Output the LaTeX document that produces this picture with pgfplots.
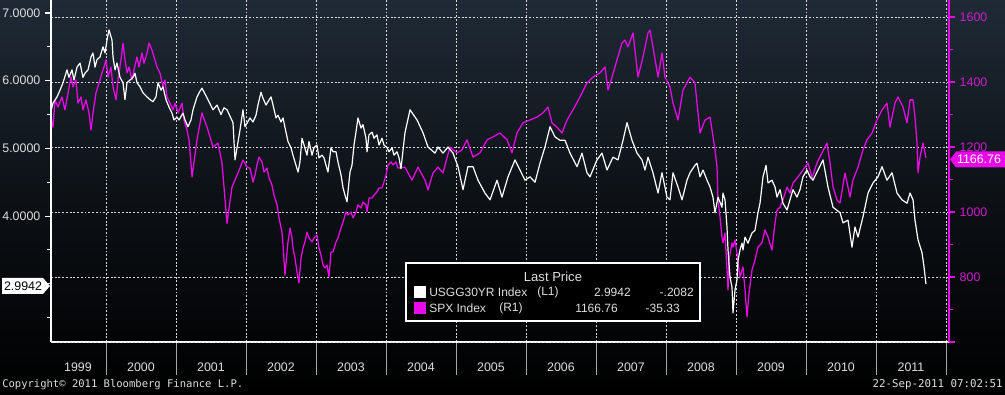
\documentclass[border=0pt]{standalone}
\usepackage{pgfplots}
\pgfplotsset{compat=1.18}
\usepackage{fontspec}
\setmainfont{Liberation Sans}
\newfontfamily\bbmono{DejaVu Sans Mono}
\definecolor{bbmag}{RGB}{232,10,232}
\definecolor{bbmagtxt}{RGB}{205,30,205}
\definecolor{bbgray}{RGB}{222,222,222}
\definecolor{bgtop}{RGB}{31,42,54}
\newcommand{\axfont}{\fontsize{9.3}{10}\selectfont}
\newcommand{\lgfont}{\fontsize{9}{10}\selectfont}

\pgfplotstableread{
x y
1999.214 5.55
1999.243 5.67
1999.300 5.76
1999.343 5.86
1999.386 5.97
1999.443 6.16
1999.471 6.05
1999.514 6.16
1999.543 6.01
1999.586 6.20
1999.629 6.26
1999.671 6.05
1999.700 6.11
1999.743 6.16
1999.786 6.35
1999.814 6.41
1999.843 6.20
1999.871 6.31
1999.914 6.35
1999.957 6.50
1999.986 6.41
2000.014 6.60
2000.043 6.75
2000.086 6.60
2000.100 6.35
2000.129 6.16
2000.157 6.26
2000.200 6.05
2000.243 5.97
2000.271 5.72
2000.300 5.97
2000.343 6.01
2000.386 6.05
2000.414 6.11
2000.443 5.97
2000.486 5.91
2000.529 5.82
2000.586 5.76
2000.629 5.72
2000.671 5.69
2000.714 5.76
2000.743 5.97
2000.786 5.86
2000.814 5.91
2000.857 5.72
2000.900 5.61
2000.943 5.52
2000.971 5.42
2001.014 5.46
2001.043 5.42
2001.100 5.52
2001.129 5.42
2001.171 5.32
2001.214 5.42
2001.243 5.57
2001.300 5.76
2001.329 5.82
2001.371 5.89
2001.457 5.72
2001.529 5.57
2001.586 5.64
2001.643 5.50
2001.686 5.60
2001.729 5.57
2001.814 5.38
2001.843 4.83
2001.914 5.27
2001.957 5.57
2001.986 5.32
2002.057 5.45
2002.100 5.39
2002.143 5.49
2002.171 5.64
2002.214 5.83
2002.243 5.74
2002.286 5.64
2002.314 5.69
2002.357 5.76
2002.386 5.64
2002.429 5.45
2002.457 5.49
2002.500 5.39
2002.529 5.45
2002.571 5.24
2002.600 5.10
2002.643 5.01
2002.671 4.90
2002.714 4.75
2002.743 4.65
2002.771 4.80
2002.800 5.15
2002.829 5.05
2002.871 4.90
2002.900 5.10
2002.943 4.90
2002.971 5.01
2003.014 5.05
2003.043 4.86
2003.086 4.90
2003.114 4.86
2003.143 4.75
2003.171 4.65
2003.214 5.01
2003.243 4.95
2003.286 4.95
2003.314 4.80
2003.357 4.61
2003.386 4.42
2003.414 4.31
2003.443 4.21
2003.457 4.36
2003.486 4.65
2003.514 4.75
2003.543 5.05
2003.571 5.24
2003.600 5.45
2003.643 5.30
2003.671 5.35
2003.714 5.15
2003.729 4.95
2003.757 5.20
2003.800 5.24
2003.829 5.15
2003.871 5.20
2003.900 5.05
2003.943 5.15
2003.971 5.05
2004.014 5.01
2004.043 4.95
2004.086 5.01
2004.114 4.90
2004.157 4.95
2004.186 4.86
2004.214 4.70
2004.271 5.23
2004.343 5.57
2004.443 5.42
2004.529 5.23
2004.600 5.02
2004.700 4.93
2004.743 5.02
2004.814 4.93
2004.886 5.02
2004.957 4.93
2005.029 4.73
2005.100 4.39
2005.171 4.73
2005.243 4.73
2005.314 4.53
2005.414 4.34
2005.486 4.24
2005.586 4.53
2005.657 4.28
2005.743 4.58
2005.843 4.83
2005.914 4.68
2005.986 4.53
2006.057 4.58
2006.129 4.50
2006.200 4.78
2006.271 5.02
2006.343 5.32
2006.414 5.17
2006.486 5.12
2006.557 5.12
2006.629 4.93
2006.729 4.73
2006.800 4.93
2006.871 4.64
2006.914 4.58
2007.014 4.83
2007.086 4.93
2007.157 4.68
2007.243 4.87
2007.314 4.83
2007.386 5.12
2007.443 5.38
2007.514 5.12
2007.586 4.93
2007.657 4.83
2007.700 4.68
2007.743 4.87
2007.814 4.64
2007.886 4.34
2007.943 4.64
2008.014 4.28
2008.057 4.24
2008.100 4.64
2008.171 4.43
2008.229 4.24
2008.300 4.53
2008.343 4.64
2008.414 4.75
2008.443 4.78
2008.486 4.58
2008.529 4.68
2008.586 4.53
2008.629 4.43
2008.671 4.28
2008.700 4.05
2008.743 4.28
2008.800 4.13
2008.814 4.34
2008.843 4.24
2008.871 3.84
2008.886 3.50
2008.914 3.10
2008.943 2.95
2008.957 2.57
2008.986 2.91
2009.014 3.06
2009.029 3.35
2009.057 3.50
2009.086 3.60
2009.100 3.50
2009.129 3.69
2009.171 3.60
2009.229 3.75
2009.271 3.79
2009.314 4.05
2009.343 4.19
2009.386 4.58
2009.429 4.75
2009.457 4.49
2009.514 4.53
2009.557 4.43
2009.586 4.28
2009.629 4.39
2009.671 4.19
2009.729 4.09
2009.771 4.24
2009.814 4.39
2009.871 4.28
2009.914 4.39
2009.957 4.58
2010.014 4.68
2010.057 4.58
2010.100 4.53
2010.171 4.68
2010.243 4.83
2010.314 4.43
2010.386 4.13
2010.486 4.05
2010.529 3.90
2010.600 3.94
2010.657 3.54
2010.700 3.84
2010.743 3.69
2010.814 3.99
2010.886 4.34
2010.957 4.49
2011.029 4.58
2011.086 4.73
2011.157 4.53
2011.229 4.64
2011.300 4.34
2011.371 4.24
2011.443 4.19
2011.486 4.34
2011.529 4.24
2011.557 3.94
2011.600 3.65
2011.657 3.46
2011.686 3.25
2011.714 2.9942
}\usgg

\pgfplotstableread{
x y
1999.214 1290
1999.243 1261
1999.271 1345
1999.314 1323
1999.371 1354
1999.414 1314
1999.457 1366
1999.500 1415
1999.529 1385
1999.571 1406
1999.600 1335
1999.643 1354
1999.671 1314
1999.714 1345
1999.757 1305
1999.786 1252
1999.814 1305
1999.857 1366
1999.900 1397
1999.943 1428
1999.971 1446
2000.000 1468
2000.029 1415
2000.071 1446
2000.100 1385
2000.143 1345
2000.171 1406
2000.214 1468
2000.243 1520
2000.271 1468
2000.300 1428
2000.329 1446
2000.371 1406
2000.400 1437
2000.443 1477
2000.471 1446
2000.514 1489
2000.543 1458
2000.586 1489
2000.614 1520
2000.657 1498
2000.686 1477
2000.729 1446
2000.771 1428
2000.814 1385
2000.843 1406
2000.871 1354
2000.914 1335
2000.957 1314
2000.986 1335
2001.029 1305
2001.086 1335
2001.114 1283
2001.157 1252
2001.186 1222
2001.229 1108
2001.300 1222
2001.371 1305
2001.443 1261
2001.529 1200
2001.600 1212
2001.657 1151
2001.729 965
2001.800 1077
2001.886 1120
2001.957 1160
2002.014 1138
2002.057 1135
2002.100 1092
2002.129 1114
2002.157 1145
2002.186 1169
2002.229 1154
2002.257 1123
2002.300 1135
2002.329 1105
2002.371 1083
2002.400 1052
2002.443 1022
2002.471 982
2002.514 938
2002.529 898
2002.557 806
2002.586 877
2002.600 908
2002.629 951
2002.657 920
2002.671 889
2002.700 858
2002.729 815
2002.757 782
2002.786 858
2002.814 889
2002.843 908
2002.871 938
2002.900 920
2002.943 908
2002.971 920
2003.014 929
2003.043 889
2003.071 868
2003.100 837
2003.129 828
2003.157 837
2003.186 800
2003.214 877
2003.243 877
2003.286 908
2003.314 920
2003.357 951
2003.386 969
2003.429 1000
2003.457 991
2003.500 1000
2003.529 982
2003.571 1000
2003.600 1022
2003.643 1012
2003.671 1031
2003.714 1022
2003.729 1000
2003.757 1043
2003.800 1043
2003.829 1052
2003.871 1062
2003.900 1074
2003.943 1074
2003.971 1092
2004.000 1114
2004.029 1145
2004.071 1154
2004.100 1145
2004.143 1154
2004.171 1135
2004.271 1138
2004.371 1098
2004.457 1138
2004.557 1098
2004.600 1068
2004.671 1120
2004.743 1138
2004.814 1120
2004.914 1200
2005.014 1182
2005.086 1191
2005.157 1222
2005.243 1169
2005.343 1182
2005.443 1222
2005.529 1231
2005.629 1243
2005.729 1222
2005.800 1182
2005.871 1243
2005.957 1274
2006.057 1283
2006.157 1292
2006.243 1305
2006.314 1323
2006.371 1274
2006.443 1261
2006.514 1243
2006.586 1283
2006.671 1314
2006.771 1354
2006.871 1397
2006.957 1415
2007.057 1428
2007.129 1446
2007.171 1375
2007.229 1415
2007.300 1468
2007.371 1520
2007.414 1529
2007.457 1508
2007.529 1551
2007.600 1415
2007.671 1477
2007.743 1551
2007.771 1560
2007.814 1508
2007.886 1415
2007.943 1489
2007.986 1415
2008.057 1385
2008.100 1335
2008.171 1283
2008.243 1375
2008.343 1415
2008.414 1397
2008.486 1243
2008.557 1283
2008.629 1292
2008.700 1191
2008.729 1138
2008.743 1037
2008.771 985
2008.800 923
2008.814 905
2008.843 935
2008.871 822
2008.886 760
2008.900 852
2008.943 905
2008.957 892
2008.986 914
2009.014 874
2009.029 843
2009.057 800
2009.100 831
2009.129 760
2009.157 677
2009.186 751
2009.229 822
2009.271 852
2009.314 892
2009.371 905
2009.414 945
2009.457 923
2009.514 883
2009.557 966
2009.586 1006
2009.629 1015
2009.671 1037
2009.729 1077
2009.771 1058
2009.814 1089
2009.886 1108
2009.957 1129
2010.029 1151
2010.086 1105
2010.157 1151
2010.229 1182
2010.300 1212
2010.343 1151
2010.386 1077
2010.443 1037
2010.486 1028
2010.557 1120
2010.629 1046
2010.671 1098
2010.743 1138
2010.814 1191
2010.871 1222
2010.943 1243
2011.014 1283
2011.086 1314
2011.157 1335
2011.200 1261
2011.271 1335
2011.314 1354
2011.386 1323
2011.443 1274
2011.486 1345
2011.529 1345
2011.557 1292
2011.586 1212
2011.600 1120
2011.629 1169
2011.671 1212
2011.714 1166.76
}\spx

\pgfplotsset{
  bbbase/.style={
    width=673.5pt, height=256.5pt, scale only axis,
    at={(38.25pt,39.75pt)}, anchor=south west,
    xmin=1999.2143, xmax=2012.043,
  },
}

\begin{document}
\begin{tikzpicture}[x=0.75pt,y=0.75pt]
\shade[top color=bgtop, bottom color=black, middle color=bgtop!40!black] (0,0) rectangle (1005,395);

% x axis: year separators, vertical grid, labels
\begin{axis}[bbbase, ymin=0, ymax=1,
  hide y axis,
  axis x line*=bottom,
  x axis line style={white, line width=0.8pt, -},
  xtick={2000,2001,2002,2003,2004,2005,2006,2007,2008,2009,2010,2011,2012},
  xticklabels={},
  tick align=outside,
  major tick length=24.5pt,
  xtick style={draw=gray!70, line width=0.7pt},
  xmajorgrids,
  x grid style={white!85!black, dash pattern=on 1.4pt off 1.4pt, line width=0.5pt},
  extra x ticks={1999.6,2000.5,2001.5,2002.5,2003.5,2004.5,2005.5,2006.5,2007.5,2008.5,2009.5,2010.5,2011.5},
  extra x tick labels={1999,2000,2001,2002,2003,2004,2005,2006,2007,2008,2009,2010,2011},
  extra x tick style={major tick length=0pt, grid=none, xtick style={draw=none},
    xticklabel style={anchor=center, yshift=-19pt}},
  xticklabel style={text=bbgray, font=\axfont},
]
\end{axis}

% right axis: SPX
\begin{axis}[bbbase, ymin=600, ymax=1652.3,
  hide x axis,
  axis y line*=right,
  y axis line style={bbmag, line width=0.9pt, -},
  ytick={600,800,1000,1200,1400,1600},
  yticklabels={,800,1000,1200,1400,1600},
  minor ytick={700,900,1100,1300,1500},
  tick align=outside,
  major tick length=4.5pt, minor tick length=3pt,
  ytick style={draw=bbmag, line width=0.9pt},
  yticklabel style={text=bbmagtxt, font=\axfont},
  ymajorgrids,
  y grid style={white!85!black, dash pattern=on 1.4pt off 1.4pt, line width=0.5pt},
]
\addplot[bbmag, line width=0.95pt, line join=round] table[x=x, y=y] {\spx};
\end{axis}

% left axis: USGG30YR
\begin{axis}[bbbase, ymin=2.140, ymax=7.192,
  hide x axis,
  axis y line*=left,
  y axis line style={white, line width=0.8pt, -},
  ytick={4,5,6,7},
  minor ytick={2.5,3,3.5,4.5,5.5,6.5},
  tick align=outside,
  major tick length=4.5pt, minor tick length=3pt,
  ytick style={draw=white, line width=0.8pt},
  yticklabel style={text=bbgray, font=\axfont,
    /pgf/number format/fixed, /pgf/number format/fixed zerofill,
    /pgf/number format/precision=4, /pgf/number format/assume math mode=true},
]
\addplot[white, line width=0.9pt, line join=round] table[x=x, y=y] {\usgg};
\end{axis}

% last value tags
\fill[white] (2,101) -- (43,101) -- (50,109) -- (43,117) -- (2,117) -- cycle;
\node[text=black, font=\axfont, inner sep=0pt] at (23,109) {2.9942};
\fill[bbmag] (950,235.5) -- (956,243.5) -- (1005,243.5) -- (1005,227.5) -- (956,227.5) -- cycle;
\node[text=white, font=\axfont, inner sep=0pt] at (979,235.5) {1166.76};

% legend box
\draw[white, line width=0.8pt, fill=black] (406,74) rectangle (700,132);
\node[text=bbgray, font=\fontsize{9.8}{11}\selectfont, inner sep=0pt] at (553,118) {Last Price};
\fill[white] (414,97) rectangle (426,109);
\fill[bbmag] (414,81) rectangle (426,93);
\begin{scope}[every node/.style={text=bbgray, font=\lgfont, inner sep=0pt}]
\node[anchor=west] at (429,103) {USGG30YR Index};
\node[anchor=west] at (537,103) {(L1)};
\node[anchor=east] at (631,103) {2.9942};
\node[anchor=east] at (694,103) {-.2082};
\node[anchor=west] at (429,87) {SPX Index};
\node[anchor=west] at (499,87) {(R1)};
\node[anchor=east] at (618,87) {1166.76};
\node[anchor=east] at (680,87) {-35.33};
\end{scope}

% footer
\node[anchor=west, text=bbgray, font=\bbmono\fontsize{7.9}{9}\selectfont, inner sep=0pt] at (2,10.5) {Copyright© 2011 Bloomberg Finance L.P.};
\node[anchor=east, text=bbgray, font=\bbmono\fontsize{8.1}{9}\selectfont, inner sep=0pt] at (1003,10.5) {22-Sep-2011 07:02:51};

\pgfresetboundingbox
\path[use as bounding box] (0,0) rectangle (1005,395);
\end{tikzpicture}
\end{document}
